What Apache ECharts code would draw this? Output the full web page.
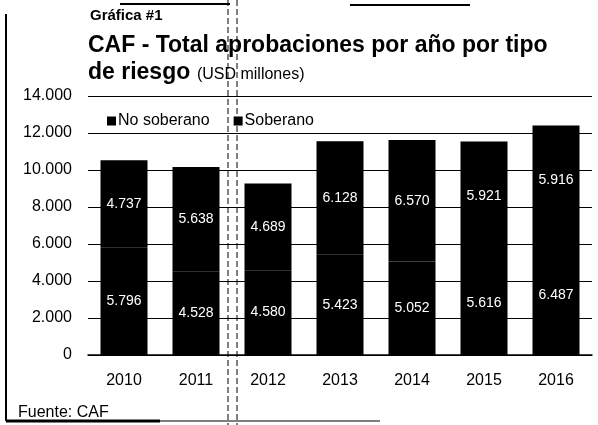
<!DOCTYPE html>
<html>
<head>
<meta charset="utf-8">
<script src="https://cdn.jsdelivr.net/npm/echarts@6/dist/echarts.min.js"></script>
<style>
  html, body { margin: 0; padding: 0; background: #fff; }
  #chart { width: 598px; height: 425px; }
</style>
</head>
<body>
<div id="chart"></div>
<script>
// años
var years = ['2010', '2011', '2012', '2013', '2014', '2015', '2016'];
// USD millones
var noSoberano = [5796, 4528, 4580, 5423, 5052, 5616, 6487];
var soberano = [4737, 5638, 4689, 6128, 6570, 5921, 5916];
var yTicks = [0, 2000, 4000, 6000, 8000, 10000, 12000, 14000];

function fmt(v) {
    return String(v).replace(/\B(?=(\d{3})+(?!\d))/g, '.');
}

var chart = echarts.init(document.getElementById('chart'));

var labelStyle = {
    show: true,
    position: 'inside',
    color: '#fff',
    fontSize: 14,
    fontFamily: 'Liberation Sans, Arial, sans-serif',
    formatter: function (p) { return fmt(p.value); }
};

chart.setOption({
    backgroundColor: '#fff',
    animation: false,
    textStyle: { fontFamily: 'Liberation Sans, Arial, sans-serif', color: '#000' },
    graphic: [
        // marco del recorte
        { type: 'line', shape: { x1: 6, y1: 14, x2: 6, y2: 421 }, style: { stroke: '#000', lineWidth: 2 } },
        { type: 'line', shape: { x1: 6, y1: 421, x2: 160, y2: 421 }, style: { stroke: '#000', lineWidth: 3 } },
        { type: 'line', shape: { x1: 160, y1: 421, x2: 380, y2: 421 }, style: { stroke: '#000', lineWidth: 1 } },
        { type: 'line', shape: { x1: 120, y1: 4, x2: 230, y2: 4 }, style: { stroke: '#000', lineWidth: 2 } },
        { type: 'line', shape: { x1: 350, y1: 5, x2: 470, y2: 5 }, style: { stroke: '#000', lineWidth: 2 } },
        // pliegue
        { type: 'line', shape: { x1: 228, y1: 0, x2: 228, y2: 425 }, style: { stroke: '#000', lineWidth: 1, lineDash: [6, 3] } },
        { type: 'line', shape: { x1: 237, y1: 0, x2: 237, y2: 425 }, style: { stroke: '#000', lineWidth: 1, lineDash: [6, 3] } },
        { type: 'text', left: 90, top: 8, style: { text: 'Gráfica #1', font: 'bold 15px Liberation Sans, Arial', fill: '#000' } },
        { type: 'text', left: 88, top: 34, style: { text: 'CAF - Total aprobaciones por año por tipo', font: 'bold 23px Liberation Sans, Arial', fill: '#000' } },
        {
            type: 'text', left: 88, top: 61,
            style: {
                text: '{b|de riesgo}  {n|(USD millones)}',
                rich: {
                    b: { font: 'bold 23px Liberation Sans, Arial', fill: '#000' },
                    n: { font: '16px Liberation Sans, Arial', fill: '#000', padding: [4, 0, 0, 0] }
                }
            }
        },
        { type: 'text', left: 18, top: 405, style: { text: 'Fuente: CAF', font: '16px Liberation Sans, Arial', fill: '#000' } }
    ],
    legend: {
        left: 102,
        top: 108,
        itemWidth: 7,
        itemHeight: 7,
        itemGap: 24,
        icon: 'rect',
        textStyle: { fontSize: 16, color: '#000', padding: [0, 0, 0, -2] },
        data: ['No soberano', 'Soberano']
    },
    grid: { left: 88, right: 6, top: 96, bottom: 70 },
    xAxis: {
        type: 'category',
        data: years,
        axisLine: { lineStyle: { color: '#000', width: 1.5 } },
        axisTick: { show: false },
        axisLabel: { color: '#000', fontSize: 16, margin: 18 }
    },
    yAxis: {
        type: 'value',
        min: yTicks[0],
        max: yTicks[yTicks.length - 1],
        interval: 2000,
        axisLine: { show: false },
        axisTick: { show: false },
        axisLabel: { color: '#000', fontSize: 16, margin: 16, formatter: fmt },
        splitLine: { lineStyle: { color: '#000', width: 1 } }
    },
    series: [
        {
            name: 'No soberano',
            type: 'bar',
            stack: 'total',
            barWidth: 47,
            data: noSoberano,
            itemStyle: { color: '#000', borderColor: '#000', borderWidth: 2 },
            label: labelStyle
        },
        {
            name: 'Soberano',
            type: 'bar',
            stack: 'total',
            barWidth: 47,
            data: soberano,
            itemStyle: { color: '#000', borderColor: '#000', borderWidth: 2 },
            label: labelStyle
        }
    ]
});
</script>
</body>
</html>
